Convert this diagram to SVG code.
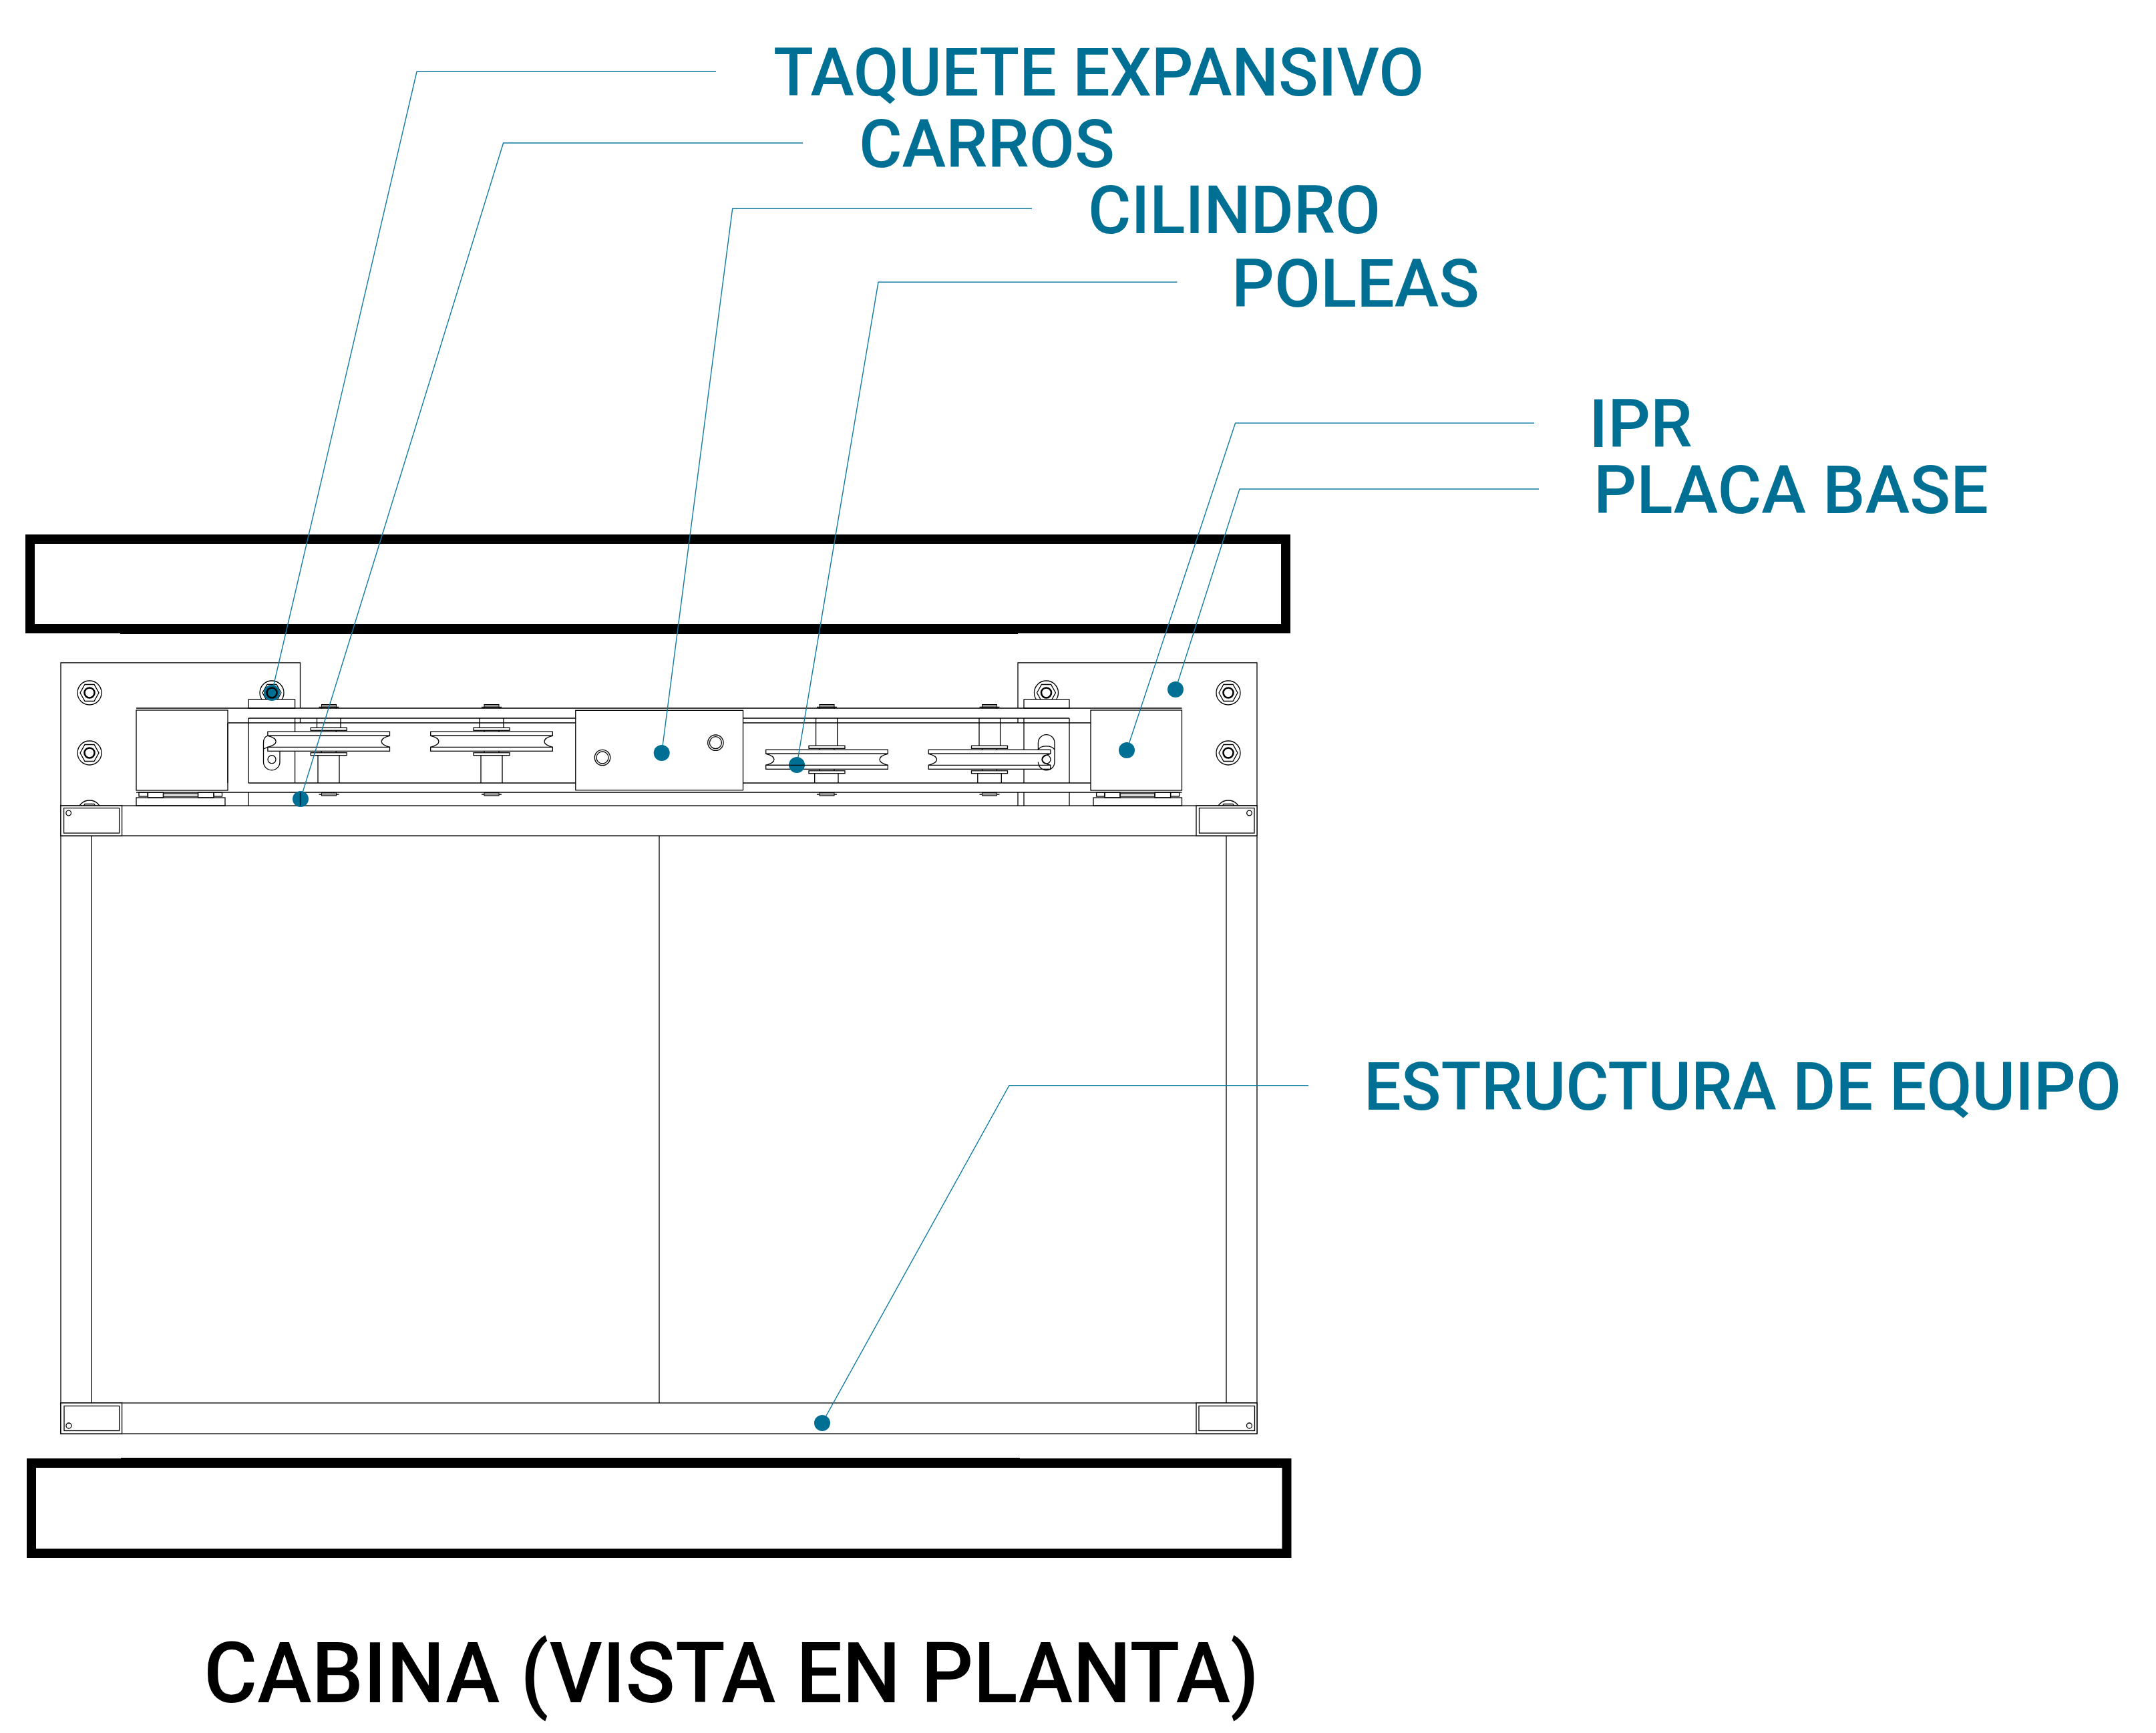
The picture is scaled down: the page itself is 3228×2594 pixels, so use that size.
<svg xmlns="http://www.w3.org/2000/svg" xmlns:xlink="http://www.w3.org/1999/xlink" width="3228" height="2594" viewBox="0 0 3228 2594">
<style>
.l{fill:none;stroke:#000;stroke-width:1.3}
.w{fill:#fff;stroke:#000;stroke-width:1.3}
.b{fill:none;stroke:#000;stroke-width:14}
.t{font-family:"Roboto","Liberation Sans",sans-serif;font-size:101px;font-weight:500;fill:#006f94}
.title{font-family:"Roboto","Liberation Sans",sans-serif;font-size:126px;font-weight:500;fill:#000}
.lead{fill:none;stroke:#0f7ba2;stroke-width:1.4}
.dot{fill:#006f94}
</style>
<defs>
<g id="bolt">
<circle class="l" r="18"/>
<polygon class="l" points="-14,0 -7,-12.5 7,-12.5 14,0 7,12.5 -7,12.5"/>
<circle r="7.5" fill="none" stroke="#000" stroke-width="2.6"/>
</g>
<g id="pulley">
<rect class="w" x="-91.3" y="-14.5" width="182.6" height="6"/>
<rect class="w" x="-91.3" y="8.5" width="182.6" height="6"/>
<path class="w" d="M-91.3,-8.5 C-83,-6.5 -79,-4 -79,0 S-83,6.5 -91.3,8.5 H91.3 C83,6.5 79,4 79,0 S83,-6.5 91.3,-8.5 Z"/>
<rect class="w" x="-27" y="-20.5" width="54" height="4"/>
<rect class="w" x="-27" y="16.9" width="54" height="4"/>
<path class="l" d="M-11,-16.5V-14.5M11,-16.5V-14.5M-11,14.5V16.9M11,14.5V16.9"/>
</g>
<g id="nut">
<rect x="-11" y="1054.5" width="22" height="4" fill="#999" stroke="#000" stroke-width="1"/>
<path class="l" d="M-15,1058.5H15M-11,1058.5V1060.5M11,1058.5V1060.5M-15,1189H15"/>
<rect x="-11" y="1186.5" width="22" height="4.5" fill="#999" stroke="#000" stroke-width="1"/>
</g>
</defs>

<g id="vigas">
<rect class="b" x="45" y="807" width="1880" height="134"/>
<rect class="b" x="47" y="2190" width="1879.5" height="135"/>
<path d="M180,948H1524V949H180ZM181,2182H1527V2183H181Z" fill="#000"/>
</g>

<g id="placa-base">
<path class="l" d="M449.5,1060V992H91V1206"/>
<path class="l" d="M1524,1060V992H1882V1206"/>
<use xlink:href="#bolt" href="#bolt" x="134" y="1037"/>
<use xlink:href="#bolt" href="#bolt" x="134" y="1127"/>
<use xlink:href="#bolt" href="#bolt" x="134" y="1216"/>
<use xlink:href="#bolt" href="#bolt" x="407" y="1037"/>
<use xlink:href="#bolt" href="#bolt" x="1566.5" y="1037"/>
<use xlink:href="#bolt" href="#bolt" x="1839" y="1037"/>
<use xlink:href="#bolt" href="#bolt" x="1839" y="1127"/>
<use xlink:href="#bolt" href="#bolt" x="1839" y="1216"/>
<rect class="w" x="372" y="1047" width="69.6" height="13"/>
<rect class="w" x="1533" y="1047" width="68" height="13"/>
</g>

<g id="estructura">
<path class="l" d="M91,1251V2146M1882,1251V2146M136.7,1251V2100M1836,1251V2100M987,1251V2100"/>
<rect class="w" x="91" y="1206" width="1791" height="45"/>
<rect class="w" x="91" y="2100" width="1791" height="46"/>
<g id="esquinas">
<rect class="w" x="91" y="1206" width="91.6" height="45"/><rect class="w" x="95.6" y="1209.5" width="83" height="37.5"/><circle class="l" cx="102.7" cy="1217" r="3.8"/>
<rect class="w" x="1791" y="1206" width="91" height="45"/><rect class="w" x="1795.5" y="1209.5" width="82.5" height="37.5"/><circle class="l" cx="1870.5" cy="1217" r="3.8"/>
<rect class="w" x="91" y="2100" width="91.6" height="46"/><rect class="w" x="96" y="2104.5" width="82.7" height="37"/><circle class="l" cx="103" cy="2134" r="4"/>
<rect class="w" x="1791" y="2100" width="91" height="46"/><rect class="w" x="1795" y="2104.5" width="83.5" height="37"/><circle class="l" cx="1870.5" cy="2134" r="4"/>
</g>
</g>

<g id="carros">
<path class="l" d="M204,1060H1769.5M204,1186H1769.5"/>
<path class="l" d="M372,1075H861.8M1112.5,1075H1601M341,1082H861.8M1112.5,1082H1633M372,1172H861.8M1112.5,1172H1633"/>
<path class="l" d="M372,1075V1172M372,1186V1206M441.6,1075V1172M449.5,1075V1082M449.5,1186V1206"/>
<path class="l" d="M1524,1075V1082M1524,1186V1206M1533,1075V1172M1533,1186V1206M1601,1075V1172M1601,1186V1206"/>
</g>

<g id="poleas">
<path class="l" d="M474.5,1075V1089.3M510,1075V1089.3M476,1130.7V1172M508,1130.7V1172"/>
<path class="l" d="M718,1075V1089.3M754,1075V1089.3M720,1130.7V1172M752,1130.7V1172"/>
<path class="l" d="M1221.6,1075V1116.3M1253.7,1075V1116.3M1219.7,1157.7V1172M1255,1157.7V1172"/>
<path class="l" d="M1466,1075V1116.3M1497.6,1075V1116.3M1463.8,1157.7V1172M1499.3,1157.7V1172"/>
<use xlink:href="#pulley" href="#pulley" x="492.2" y="1109.8"/>
<use xlink:href="#pulley" href="#pulley" x="736" y="1109.8"/>
<use xlink:href="#pulley" href="#pulley" x="1238" y="1136.8"/>
<use xlink:href="#pulley" href="#pulley" x="1481.5" y="1136.8"/>
<use xlink:href="#nut" href="#nut" x="492.5"/>
<use xlink:href="#nut" href="#nut" x="736"/>
<use xlink:href="#nut" href="#nut" x="1238"/>
<use xlink:href="#nut" href="#nut" x="1481.5"/>
<path class="l" d="M401,1101.3C397,1102 394.5,1106 394.5,1112V1140.5A12.2,12.2 0 0 0 419,1140.5V1124.3M394.5,1121L401,1118.3"/>
<circle class="l" cx="407" cy="1136.7" r="6"/>
<path class="l" d="M1554.4,1122.3V1112A12.3,12.3 0 0 1 1579,1112V1140.5A12.3,12.3 0 0 1 1554.4,1140.5M1554.4,1122.3C1558,1115 1575,1115 1579,1122.3"/>
<circle class="l" cx="1566.5" cy="1136.7" r="6.5"/>
</g>

<g id="bloque-izq">
<rect class="w" x="204" y="1063" width="137" height="120"/>
<path class="l" d="M341,1082V1172"/>
<rect class="l" x="208" y="1186" width="13" height="6"/>
<rect class="l" x="221.5" y="1186" width="23" height="8"/>
<rect class="l" x="244.5" y="1188" width="52" height="4"/>
<rect class="l" x="296.5" y="1186" width="23.5" height="8"/>
<rect class="l" x="320" y="1186" width="12.5" height="6"/>
<rect class="l" x="204" y="1194" width="133" height="12"/>
</g>
<g id="bloque-der">
<rect class="w" x="1633" y="1063" width="136.5" height="120"/>
<rect class="l" x="1641.6" y="1186" width="12.4" height="6"/>
<rect class="l" x="1654" y="1186" width="23" height="8"/>
<rect class="l" x="1677" y="1188" width="52" height="4"/>
<rect class="l" x="1729" y="1186" width="23.6" height="8"/>
<rect class="l" x="1752.6" y="1186" width="13" height="6"/>
<rect class="l" x="1637" y="1194" width="132.5" height="12"/>
</g>

<g id="cilindro">
<rect class="w" x="861.8" y="1063.3" width="250.7" height="119.4"/>
<circle class="l" cx="902" cy="1134" r="11.7"/><circle class="l" cx="902" cy="1134" r="9"/>
<circle class="l" cx="1071.4" cy="1111.7" r="11.7"/><circle class="l" cx="1071.4" cy="1111.7" r="9"/>
</g>

<g id="connectors">
<polyline class="lead" points="1072,107.3 624,107.3 407,1037"/>
<polyline class="lead" points="1202,214 753.6,214 450,1196"/>
<polyline class="lead" points="1545,312.3 1096.7,312.3 990.7,1127"/>
<polyline class="lead" points="1762.5,422.3 1315,422.3 1193,1145"/>
<polyline class="lead" points="2297,633.3 1849.6,633.3 1687,1123"/>
<polyline class="lead" points="2304,732 1856,732 1760,1032"/>
<polyline class="lead" points="1959,1624.7 1511,1624.7 1231,2130"/>
<circle class="dot" cx="407" cy="1037" r="12"/>
<circle class="dot" cx="450" cy="1196" r="12"/>
<circle class="dot" cx="990.7" cy="1127" r="12"/>
<circle class="dot" cx="1193" cy="1145" r="12"/>
<circle class="dot" cx="1687" cy="1123" r="12"/>
<circle class="dot" cx="1760" cy="1032" r="12"/>
<circle class="dot" cx="1231" cy="2130" r="12"/>
<circle cx="407" cy="1037" r="7.5" fill="none" stroke="#000" stroke-width="2.6"/>
<path class="l" d="M449.5,1186V1206"/>
<path class="l" d="M1146.5,1145.3H1205"/>
</g>

<g id="labels">
<text class="t" x="1158" y="143" textLength="974" lengthAdjust="spacingAndGlyphs">TAQUETE EXPANSIVO</text>
<text class="t" x="1286" y="250" textLength="383" lengthAdjust="spacingAndGlyphs">CARROS</text>
<text class="t" x="1629" y="348.7" textLength="438" lengthAdjust="spacingAndGlyphs">CILINDRO</text>
<text class="t" x="1844" y="458.7" textLength="371" lengthAdjust="spacingAndGlyphs">POLEAS</text>
<text class="t" x="2379" y="669.3" textLength="155" lengthAdjust="spacingAndGlyphs">IPR</text>
<text class="t" x="2386" y="768" textLength="591" lengthAdjust="spacingAndGlyphs">PLACA BASE</text>
<text class="t" x="2042" y="1660.7" textLength="1134" lengthAdjust="spacingAndGlyphs">ESTRUCTURA DE EQUIPO</text>
<text class="title" x="305" y="2547.7" textLength="1580" lengthAdjust="spacingAndGlyphs">CABINA (VISTA EN PLANTA)</text>
</g>
</svg>
